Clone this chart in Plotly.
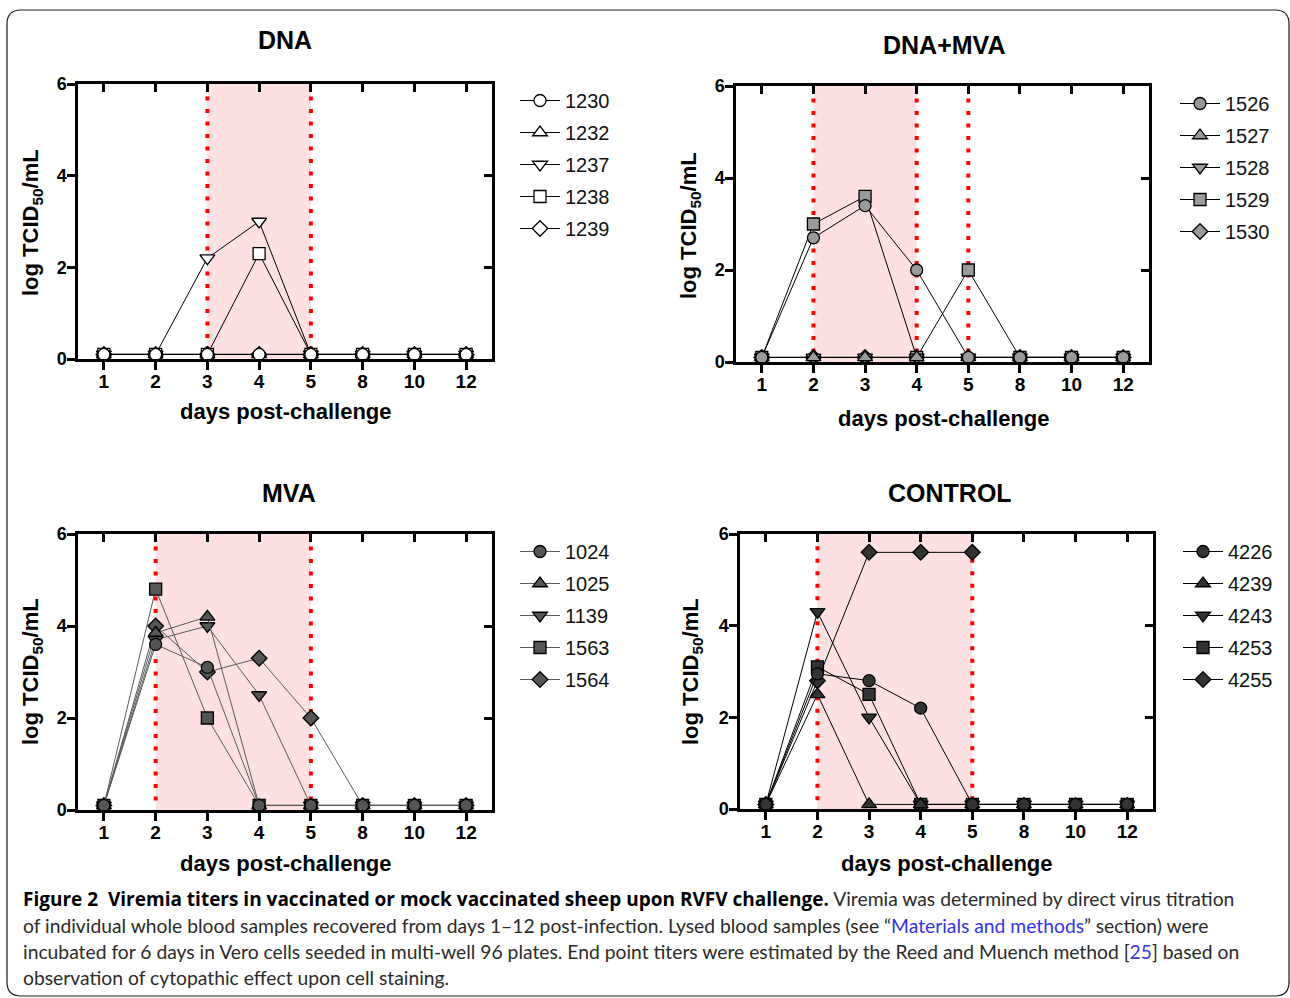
import plotly.graph_objects as go

# ---- data -------------------------------------------------------------
days = ["1", "2", "3", "4", "5", "8", "10", "12"]

dna_ids = ["1230", "1232", "1237", "1238", "1239"]
dna_titers = [
    [0.1, 0.1, 0.1, 0.1, 0.1, 0.1, 0.1, 0.1],
    [0.1, 0.1, 0.1, 0.1, 0.1, 0.1, 0.1, 0.1],
    [0.1, 0.1, 2.2, 3.0, 0.1, 0.1, 0.1, 0.1],
    [0.1, 0.1, 0.1, 2.3, 0.1, 0.1, 0.1, 0.1],
    [0.1, 0.1, 0.1, 0.1, 0.1, 0.1, 0.1, 0.1],
]

dnamva_ids = ["1526", "1527", "1528", "1529", "1530"]
dnamva_titers = [
    [0.1, 2.7, 3.4, 2.0, 0.1, 0.1, 0.1, 0.1],
    [0.1, 0.1, 0.1, 0.1, 0.1, 0.1, 0.1, 0.1],
    [0.1, 0.1, 0.1, 0.1, 0.1, 0.1, 0.1, 0.1],
    [0.1, 3.0, 3.6, 0.1, 2.0, 0.1, 0.1, 0.1],
    [0.1, 0.1, 0.1, 0.1, 0.1, 0.1, 0.1, 0.1],
]

mva_ids = ["1024", "1025", "1139", "1563", "1564"]
mva_titers = [
    [0.1, 3.6, 3.1, 0.1, 0.1, 0.1, 0.1, 0.1],
    [0.1, 3.85, 4.2, 0.1, 0.1, 0.1, 0.1, 0.1],
    [0.1, 3.7, 4.0, 2.5, 0.1, 0.1, 0.1, 0.1],
    [0.1, 4.8, 2.0, 0.1, 0.1, 0.1, 0.1, 0.1],
    [0.1, 4.0, 3.0, 3.3, 2.0, 0.1, 0.1, 0.1],
]

control_ids = ["4226", "4239", "4243", "4253", "4255"]
control_titers = [
    [0.1, 2.95, 2.8, 2.2, 0.1, 0.1, 0.1, 0.1],
    [0.1, 2.5, 0.1, 0.1, 0.1, 0.1, 0.1, 0.1],
    [0.1, 4.3, 2.0, 0.1, 0.1, 0.1, 0.1, 0.1],
    [0.1, 3.1, 2.5, 0.1, 0.1, 0.1, 0.1, 0.1],
    [0.1, 2.8, 5.6, 5.6, 5.6, None, None, None],
]

# challenge window (shaded) and dotted reference days per group
dna_window, dna_dotted = ("3", "5"), ["3", "5"]
dnamva_window, dnamva_dotted = ("2", "4"), ["2", "4", "5"]
mva_window, mva_dotted = ("2", "5"), ["2", "5"]
control_window, control_dotted = ("2", "5"), ["2", "5"]

y_ticks = [0, 2, 4, 6]
symbols = ["circle", "triangle-up", "triangle-down", "square", "diamond"]

# ---- layout helpers -----------------------------------------------------
W, H = 1290, 998


def px(x):
    return x / W


def py(y):
    return 1 - y / H


FONT = "Liberation Sans"
xi = list(range(len(days)))

panels = [
    dict(title="DNA", ids=dna_ids, vals=dna_titers, fill="#ffffff", lc="#000000",
         window=dna_window, dotted=dna_dotted, box=(78, 492, 84, 359),
         title_xy=(285, 40), xt_xy=(286, 412), yt_xy=(32, 223), leg_xy=(515, 81)),
    dict(title="DNA+MVA", ids=dnamva_ids, vals=dnamva_titers, fill="#9a9a9a", lc="#000000",
         window=dnamva_window, dotted=dnamva_dotted, box=(736, 1149, 86, 362),
         title_xy=(944, 45), xt_xy=(944, 418), yt_xy=(690, 225), leg_xy=(1175, 84)),
    dict(title="MVA", ids=mva_ids, vals=mva_titers, fill="#555555", lc="#5a5a5a",
         window=mva_window, dotted=mva_dotted, box=(78, 492, 534, 810),
         title_xy=(289, 493), xt_xy=(286, 863), yt_xy=(32, 672), leg_xy=(515, 532)),
    dict(title="CONTROL", ids=control_ids, vals=control_titers, fill="#333333", lc="#000000",
         window=control_window, dotted=control_dotted, box=(740, 1153, 534, 809),
         title_xy=(950, 493), xt_xy=(947, 863), yt_xy=(692, 672), leg_xy=(1178, 532)),
]

fig = go.Figure()
layout = {}
shapes = []
annotations = []

for n, p in enumerate(panels, start=1):
    xr = "x" if n == 1 else f"x{n}"
    yr = "y" if n == 1 else f"y{n}"
    xa = "xaxis" if n == 1 else f"xaxis{n}"
    ya = "yaxis" if n == 1 else f"yaxis{n}"
    leg = "legend" if n == 1 else f"legend{n}"
    l, r, t, b = p["box"]

    # traces drawn last-to-first so the first animal sits on top
    for k in reversed(range(len(p["ids"]))):
        fig.add_trace(go.Scatter(
            x=xi, y=p["vals"][k], mode="lines+markers", name=p["ids"][k],
            xaxis=xr, yaxis=yr, legend=leg, legendrank=k + 1,
            legendgroup=f"{n}-{k}",
            line=dict(color=p["lc"], width=1),
            marker=dict(symbol=symbols[k], size=13 if "triangle" in symbols[k] else 12,
                        color=p["fill"], line=dict(color="#000000", width=1.3)),
            connectgaps=False,
        ))

    # empty trace that brings the top/right frame axes into existence
    fig.add_trace(go.Scatter(x=[], y=[], xaxis=f"x{n + 4}", yaxis=f"y{n + 4}",
                             showlegend=False, hoverinfo="skip"))

    common = dict(showgrid=False, zeroline=False, showline=True, linewidth=2.5,
                  linecolor="black", tickwidth=2.5, ticklen=8, tickcolor="black",
                  automargin=False)
    layout[xa] = dict(domain=[px(l), px(r)], anchor=yr, range=[-0.5, len(days) - 0.5],
                      tickvals=xi, ticktext=days, ticks="outside", ticklabelstandoff=-5,
                      tickfont=dict(family=FONT, size=19, color="black", weight="bold"),
                      **common)
    layout[ya] = dict(domain=[py(b), py(t)], anchor=xr, range=[0, 6],
                      tickvals=y_ticks, ticks="outside", ticklabelstandoff=-3,
                      tickfont=dict(family=FONT, size=18, color="black", weight="bold"),
                      **common)
    # inward ticks on the top and right edges of the box
    layout[f"xaxis{n + 4}"] = dict(overlaying=xr, anchor=f"y{n + 4}", side="top",
                                   range=[-0.5, len(days) - 0.5], tickvals=xi,
                                   ticks="inside", showticklabels=False, **common)
    layout[f"yaxis{n + 4}"] = dict(overlaying=yr, anchor=f"x{n + 4}", side="right",
                                   range=[0, 6], tickvals=y_ticks, ticks="inside",
                                   showticklabels=False, **common)

    lx, ly = p["leg_xy"]
    layout[leg] = dict(x=px(lx), y=py(ly), xanchor="left", yanchor="top",
                       bgcolor="rgba(0,0,0,0)", borderwidth=0, tracegroupgap=3,
                       itemwidth=40, traceorder="grouped",
                       font=dict(family=FONT, size=20, color="#111111"))

    # shaded challenge window and dotted reference days
    w0, w1 = p["window"]
    shapes.append(dict(type="rect", xref=xr, yref=f"{yr} domain",
                       x0=days.index(w0), x1=days.index(w1), y0=0, y1=1,
                       fillcolor="#fde0e1", line=dict(width=0), layer="below"))
    for d in p["dotted"]:
        shapes.append(dict(type="line", xref=xr, yref=yr,
                           x0=days.index(d), x1=days.index(d), y0=5.73, y1=0.03,
                           line=dict(color="#ff0000", width=4, dash="4px,8.5px"),
                           layer="below"))

    tx, ty = p["title_xy"]
    annotations.append(dict(text=f"<b>{p['title']}</b>", x=px(tx), y=py(ty),
                            xref="paper", yref="paper", showarrow=False,
                            xanchor="center", yanchor="middle",
                            font=dict(family=FONT, size=25, color="black")))
    ax_, ay_ = p["xt_xy"]
    annotations.append(dict(text="<b>days post-challenge</b>", x=px(ax_), y=py(ay_),
                            xref="paper", yref="paper", showarrow=False,
                            xanchor="center", yanchor="middle",
                            font=dict(family=FONT, size=22, color="black")))
    yx, yy = p["yt_xy"]
    annotations.append(dict(text="<b>log TCID<sub>50</sub>/mL</b>", x=px(yx), y=py(yy),
                            xref="paper", yref="paper", showarrow=False, textangle=-90,
                            xanchor="center", yanchor="middle",
                            font=dict(family=FONT, size=22, color="black")))

# rounded frame around the figure
xl, xrr, yt, yb = px(7), px(1289), py(10), py(996)
rx, ry = 14 / W, 14 / H
frame = (f"M {xl + rx},{yt} L {xrr - rx},{yt} Q {xrr},{yt} {xrr},{yt - ry} "
         f"L {xrr},{yb + ry} Q {xrr},{yb} {xrr - rx},{yb} L {xl + rx},{yb} "
         f"Q {xl},{yb} {xl},{yb + ry} L {xl},{yt - ry} Q {xl},{yt} {xl + rx},{yt} Z")
shapes.append(dict(type="path", xref="paper", yref="paper", path=frame,
                   line=dict(color="#1a1a1a", width=1.2), layer="above"))

# caption
CAP = "Lato"
blue = "#3333e6"
bold_style = "font-family:'Open Sans';font-weight:bold;font-size:19px;color:#000000"
caption_lines = [
    f"<span style=\"{bold_style}\">Figure 2\u00a0\u00a0Viremia titers in vaccinated or mock "
    "vaccinated sheep upon RVFV challenge.</span>"
    " Viremia was determined by direct virus titration",
    "of individual whole blood samples recovered from days 1\u201312 post-infection. "
    f"Lysed blood samples (see \u201c<span style='color:{blue}'>Materials and methods</span>\u201d section) were",
    "incubated for 6 days in Vero cells seeded in multi-well 96 plates. End point titers were "
    f"estimated by the Reed and Muench method [<span style='color:{blue}'>25</span>] based on",
    "observation of cytopathic effect upon cell staining.",
]
for i, line in enumerate(caption_lines):
    annotations.append(dict(text=line, x=px(21), y=py(899 + i * 26.3), xref="paper",
                            yref="paper", xanchor="left", yanchor="middle",
                            showarrow=False, align="left",
                            font=dict(family=CAP, size=19.3, color="#2a2a2a")))

fig.update_layout(
    width=W, height=H, margin=dict(l=0, r=0, t=0, b=0, autoexpand=False),
    paper_bgcolor="white", plot_bgcolor="white",
    shapes=shapes, annotations=annotations, **layout,
)

fig.write_html("out.html")
